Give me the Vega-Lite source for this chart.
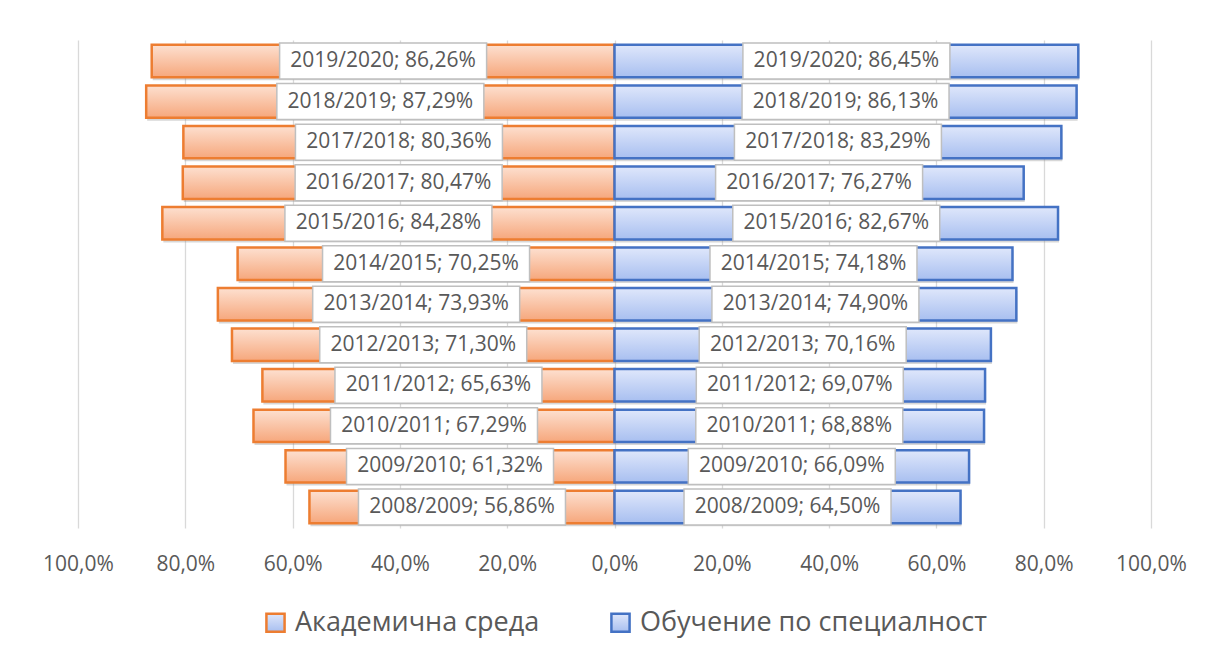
{
  "$schema": "https://vega.github.io/schema/vega-lite/v6.json",
  "autosize": {"type": "none"},
  "width": 1073,
  "height": 488,
  "padding": {"left": 78, "top": 40, "right": 57, "bottom": 129},
  "background": "white",
  "config": {
    "view": {"stroke": null},
    "font": "Open Sans"
  },
  "data": {
    "values": [
      {"year": "2019/2020", "series": "Академична среда", "value": 0.8626},
      {"year": "2018/2019", "series": "Академична среда", "value": 0.8729},
      {"year": "2017/2018", "series": "Академична среда", "value": 0.8036},
      {"year": "2016/2017", "series": "Академична среда", "value": 0.8047},
      {"year": "2015/2016", "series": "Академична среда", "value": 0.8428},
      {"year": "2014/2015", "series": "Академична среда", "value": 0.7025},
      {"year": "2013/2014", "series": "Академична среда", "value": 0.7393},
      {"year": "2012/2013", "series": "Академична среда", "value": 0.7130},
      {"year": "2011/2012", "series": "Академична среда", "value": 0.6563},
      {"year": "2010/2011", "series": "Академична среда", "value": 0.6729},
      {"year": "2009/2010", "series": "Академична среда", "value": 0.6132},
      {"year": "2008/2009", "series": "Академична среда", "value": 0.5686},
      {"year": "2019/2020", "series": "Обучение по специалност", "value": 0.8645},
      {"year": "2018/2019", "series": "Обучение по специалност", "value": 0.8613},
      {"year": "2017/2018", "series": "Обучение по специалност", "value": 0.8329},
      {"year": "2016/2017", "series": "Обучение по специалност", "value": 0.7627},
      {"year": "2015/2016", "series": "Обучение по специалност", "value": 0.8267},
      {"year": "2014/2015", "series": "Обучение по специалност", "value": 0.7418},
      {"year": "2013/2014", "series": "Обучение по специалност", "value": 0.7490},
      {"year": "2012/2013", "series": "Обучение по специалност", "value": 0.7016},
      {"year": "2011/2012", "series": "Обучение по специалност", "value": 0.6907},
      {"year": "2010/2011", "series": "Обучение по специалност", "value": 0.6888},
      {"year": "2009/2010", "series": "Обучение по специалност", "value": 0.6609},
      {"year": "2008/2009", "series": "Обучение по специалност", "value": 0.6450}
    ]
  },
  "transform": [
    {"calculate": "datum.series == 'Академична среда' ? -datum.value : datum.value", "as": "x"},
    {"calculate": "datum.x / 2", "as": "mid"},
    {"calculate": "datum.year + '; ' + replace(format(datum.value, '.2%'), '.', ',')", "as": "label"}
  ],
  "encoding": {
    "y": {
      "field": "year",
      "type": "nominal",
      "sort": "descending",
      "scale": {"paddingInner": 0.2, "paddingOuter": 0.12},
      "axis": null
    }
  },
  "layer": [
    {
      "mark": {"type": "bar", "fill": "#8c8c8c", "opacity": 0.35, "strokeWidth": 0, "yOffset": 3, "xOffset": 1},
      "encoding": {
        "x": {
          "field": "x",
          "type": "quantitative",
          "scale": {"domain": [-1, 1], "nice": false, "zero": true},
          "axis": {
            "values": [-1, -0.8, -0.6, -0.4, -0.2, 0, 0.2, 0.4, 0.6, 0.8, 1],
            "labelExpr": "replace(format(abs(datum.value), '.1%'), '.', ',')",
            "labelFlush": false,
            "labelOverlap": false,
            "labelBound": false,
            "domain": false,
            "ticks": false,
            "grid": true,
            "gridColor": "#d9d9d9",
            "gridWidth": 1.3,
            "labelColor": "#595959",
            "labelFontSize": 21,
            "labelFont": "Open Sans",
            "labelPadding": 25,
            "title": null
          }
        }
      }
    },
    {
      "mark": {"type": "bar", "strokeWidth": 2.5},
      "encoding": {
        "x": {"field": "x", "type": "quantitative"},
        "fill": {
          "condition": {
            "test": "datum.series == 'Академична среда'",
            "value": {"gradient": "linear", "x1": 0, "y1": 0, "x2": 0, "y2": 1, "stops": [{"offset": 0, "color": "#fde0d0"}, {"offset": 1, "color": "#f6a77c"}]}
          },
          "value": {"gradient": "linear", "x1": 0, "y1": 0, "x2": 0, "y2": 1, "stops": [{"offset": 0, "color": "#dfe7fb"}, {"offset": 1, "color": "#a8bff0"}]}
        },
        "stroke": {
          "field": "series",
          "type": "nominal",
          "scale": {"domain": ["Академична среда", "Обучение по специалност"], "range": ["#ed7d31", "#4472c4"]},
          "legend": {
            "orient": "none",
            "legendX": 184,
            "legendY": 569,
            "direction": "horizontal",
            "title": null,
            "symbolType": "square",
            "symbolSize": 330,
            "symbolStrokeWidth": 2.5,
            "labelFontSize": 27,
            "labelColor": "#595959",
            "labelFont": "Open Sans",
            "labelOffset": 6,
            "columnPadding": 66,
            "labelLimit": 400,
            "encode": {
              "symbols": {
                "update": {
                  "fill": [
                    {"test": "datum.value == 'Академична среда'", "value": "#fbcfb6"},
                    {"value": "#c6d5f6"}
                  ],
                  "fillOpacity": {"value": 1}
                }
              }
            }
          }
        }
      }
    },
    {
      "mark": {"type": "point", "shape": "M-1,-0.174H1V0.174H-1Z", "size": 42849, "filled": true, "fill": "white", "stroke": "#bfbfbf", "strokeWidth": 1.5, "opacity": 1},
      "encoding": {
        "x": {"field": "mid", "type": "quantitative"}
      }
    },
    {
      "mark": {"type": "text", "font": "Open Sans", "fontSize": 21, "color": "#595959", "align": "center", "baseline": "middle"},
      "encoding": {
        "x": {"field": "mid", "type": "quantitative"},
        "text": {"field": "label"}
      }
    }
  ]
}
